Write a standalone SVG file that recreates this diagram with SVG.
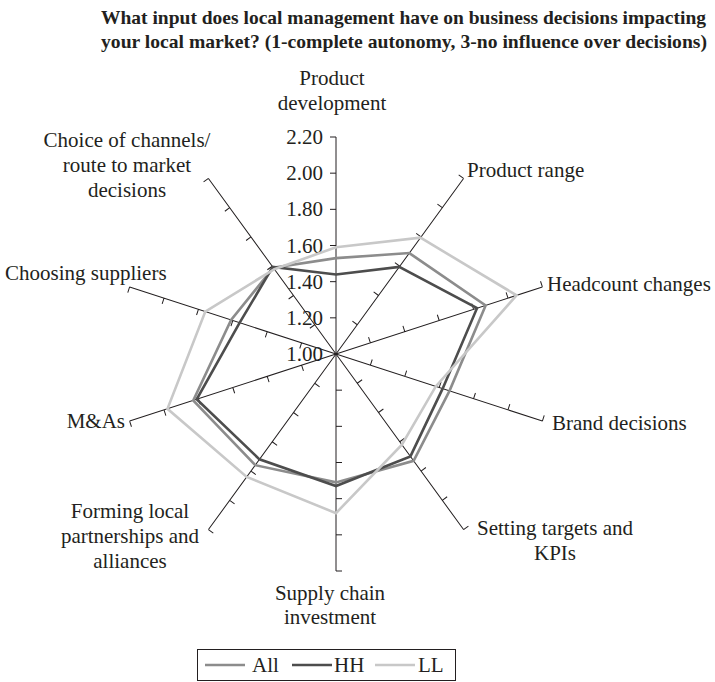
<svg xmlns="http://www.w3.org/2000/svg" xmlns:xlink="http://www.w3.org/1999/xlink" width="715" height="682" viewBox="0 0 715 682">
  <style>
    text { font-family: "Liberation Serif", "Times New Roman", serif; font-size: 21px; fill: #231f20; }
    .title { font-weight: bold; font-size: 19.5px; }
    .mid { text-anchor: middle; }
    .end { text-anchor: end; }
    .axis { stroke: #231f20; stroke-width: 1; fill: none; }
    .series { fill: none; stroke-width: 2.6; stroke-linejoin: miter; }
    .all { stroke: #8c8c8c; }
    .hh { stroke: #4d4d4d; }
    .ll { stroke: #c8c8c8; }
  </style>
  <defs>
    <!-- one spoke pointing up from the centre, with ticks every 0.20 on its left side -->
    <path id="spoke" class="axis" d="M336 354V137 M330 137H336 M330 173.17H336 M330 209.33H336 M330 245.5H336 M330 281.67H336 M330 317.83H336"/>
  </defs>

  <g id="title">
    <text class="title" x="101" y="24" textLength="605" lengthAdjust="spacingAndGlyphs">What input does local management have on business decisions impacting</text>
    <text class="title" x="101" y="48" textLength="606" lengthAdjust="spacingAndGlyphs">your local market? (1-complete autonomy,  3-no influence over decisions)</text>
  </g>

  <g id="connectors">
    <use xlink:href="#spoke"/>
    <use xlink:href="#spoke" transform="rotate(36 336 354)"/>
    <use xlink:href="#spoke" transform="rotate(72 336 354)"/>
    <use xlink:href="#spoke" transform="rotate(108 336 354)"/>
    <use xlink:href="#spoke" transform="rotate(144 336 354)"/>
    <use xlink:href="#spoke" transform="rotate(180 336 354)"/>
    <use xlink:href="#spoke" transform="rotate(216 336 354)"/>
    <use xlink:href="#spoke" transform="rotate(252 336 354)"/>
    <use xlink:href="#spoke" transform="rotate(288 336 354)"/>
    <use xlink:href="#spoke" transform="rotate(324 336 354)"/>
  </g>

  <g id="scale">
    <text class="end" x="323" y="144">2.20</text>
    <text class="end" x="323" y="180">2.00</text>
    <text class="end" x="323" y="216">1.80</text>
    <text class="end" x="323" y="252.5">1.60</text>
    <text class="end" x="323" y="288.5">1.40</text>
    <text class="end" x="323" y="325">1.20</text>
    <text class="end" x="323" y="361">1.00</text>
  </g>

  <g id="series-all">
    <polygon class="series all" points="336,258.16 409.34,253.06 485.63,305.39 449.51,390.88 413.59,460.8 336,482.39 255.22,465.18 193.25,400.38 231.09,319.91 273.29,267.69"/>
  </g>
  <g id="series-hh">
    <polygon class="series hh" points="336,274.43 399.24,266.96 477.03,308.18 442.63,388.64 410.4,456.4 336,486.01 259.47,459.33 196.69,399.26 239.69,322.71 272.76,266.96"/>
  </g>
  <g id="series-ll">
    <polygon class="series ll" points="336,247.31 420.5,237.7 516.59,295.33 435.75,386.41 401.9,444.7 336,513.13 246.71,476.89 167.46,408.76 205.29,311.53 274.35,269.15"/>
  </g>

  <g id="label-product-development">
    <text class="mid" x="332" y="85">Product</text>
    <text class="mid" x="332" y="110">development</text>
  </g>
  <g id="label-product-range">
    <text x="467" y="177">Product range</text>
  </g>
  <g id="label-headcount">
    <text x="547" y="291">Headcount changes</text>
  </g>
  <g id="label-brand">
    <text x="552" y="430">Brand decisions</text>
  </g>
  <g id="label-targets">
    <text class="mid" x="555" y="535">Setting targets and</text>
    <text class="mid" x="555" y="560">KPIs</text>
  </g>
  <g id="label-supply-chain">
    <text class="mid" x="330" y="600">Supply chain</text>
    <text class="mid" x="330" y="624">investment</text>
  </g>
  <g id="label-partnerships">
    <text class="mid" x="130" y="518">Forming local</text>
    <text class="mid" x="130" y="543">partnerships and</text>
    <text class="mid" x="130" y="568">alliances</text>
  </g>
  <g id="label-ma">
    <text class="end" x="125" y="428">M&amp;As</text>
  </g>
  <g id="label-suppliers">
    <text x="5" y="280">Choosing suppliers</text>
  </g>
  <g id="label-channels">
    <text class="mid" x="127" y="147">Choice of channels/</text>
    <text class="mid" x="127" y="172">route to market</text>
    <text class="mid" x="127" y="197">decisions</text>
  </g>

  <g id="legend">
    <rect x="197.5" y="649.5" width="258" height="31" fill="#fff" stroke="#231f20" stroke-width="1"/>
    <line class="series all" x1="205" y1="665" x2="245" y2="665"/>
    <text x="252" y="672">All</text>
    <line class="series hh" x1="292" y1="665" x2="332" y2="665"/>
    <text x="334" y="672">HH</text>
    <line class="series ll" x1="375" y1="665" x2="415" y2="665"/>
    <text x="418" y="672">LL</text>
  </g>
</svg>
